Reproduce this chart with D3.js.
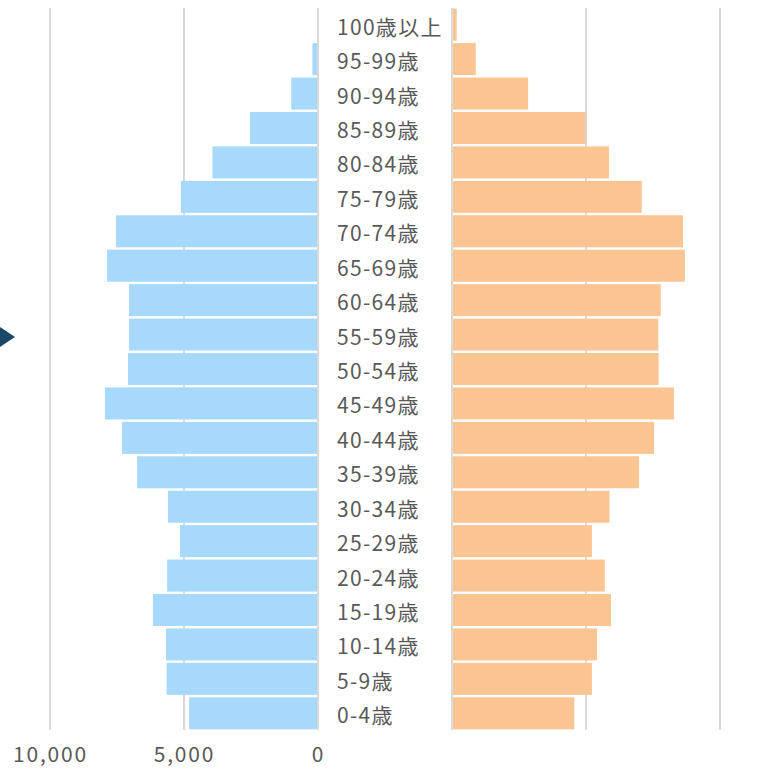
<!DOCTYPE html>
<html>
<head>
<meta charset="utf-8">
<script src="https://cdn.jsdelivr.net/npm/d3@7"></script>
<style>
  html, body { margin: 0; padding: 0; background: #ffffff; }
  svg { display: block; }
  text { font-family: "Noto Sans CJK JP", "Noto Sans", sans-serif; fill: #595959; }
</style>
</head>
<body>
<svg id="chart" width="758" height="771"></svg>
<script>
// Age groups, oldest at the top
const ageGroups = ["100歳以上", "95-99歳", "90-94歳", "85-89歳", "80-84歳", "75-79歳",
  "70-74歳", "65-69歳", "60-64歳", "55-59歳", "50-54歳", "45-49歳", "40-44歳",
  "35-39歳", "30-34歳", "25-29歳", "20-24歳", "15-19歳", "10-14歳", "5-9歳", "0-4歳"];

// Male population (left side)
const male = [15, 210, 1000, 2540, 3940, 5120, 7540, 7870, 7050, 7050, 7090, 7950,
  7310, 6750, 5600, 5150, 5630, 6160, 5670, 5650, 4810];

// Female population (right side)
const female = [175, 885, 2840, 4975, 5860, 7080, 8620, 8690, 7790, 7700, 7710, 8280,
  7540, 6980, 5880, 5220, 5700, 5930, 5410, 5220, 4565];

const tickValues = [0, 5000, 10000];

const svg = d3.select("#chart");

const y = d3.scaleBand().domain(ageGroups).range([8, 730]).paddingInner(0.07).paddingOuter(0.02);
const xLeft = d3.scaleLinear().domain([0, 10000]).range([318, 50]);
const xRight = d3.scaleLinear().domain([0, 10000]).range([452, 720]);

// Vertical grid lines for both halves
const grid = svg.append("g");
[xLeft, xRight].forEach(sc => {
  grid.selectAll(null).data(tickValues).enter().append("line")
    .attr("x1", d => sc(d)).attr("x2", d => sc(d))
    .attr("y1", 8).attr("y2", 730)
    .attr("stroke", "#d9d9d9").attr("stroke-width", 2);
});

// Male bars grow leftwards from zero
svg.append("g").selectAll("rect").data(male).enter().append("rect")
  .attr("x", d => xLeft(d))
  .attr("y", (d, i) => y(ageGroups[i]))
  .attr("width", d => xLeft(0) - 1 - xLeft(d))
  .attr("height", y.bandwidth())
  .attr("fill", "#a6d9fc");

// Female bars grow rightwards from zero
svg.append("g").selectAll("rect").data(female).enter().append("rect")
  .attr("x", xRight(0) + 1)
  .attr("y", (d, i) => y(ageGroups[i]))
  .attr("width", d => xRight(d) - xRight(0) - 1)
  .attr("height", y.bandwidth())
  .attr("fill", "#fac592");

// Age group labels in the central gap
svg.append("g").selectAll("text").data(ageGroups).enter().append("text")
  .attr("x", 337)
  .attr("y", d => y(d) + y.bandwidth() / 2 + 1)
  .attr("dominant-baseline", "central")
  .style("font-size", "21px")
  .style("letter-spacing", "1.3px")
  .text(d => d);

// Bottom axis for the male side
const axis = d3.axisBottom(xLeft).tickValues(tickValues).tickFormat(d3.format(",")).tickSize(0);
const ax = svg.append("g").attr("transform", "translate(0,753)").call(axis);
ax.select(".domain").remove();
ax.selectAll("text").style("font-size", "21px").attr("dy", "0.3em")
  .style("letter-spacing", "1.8px")
  .style("font-family", "'Noto Sans CJK JP', sans-serif").attr("fill", "#595959");

// Pointer marker at the left edge
svg.append("path")
  .attr("d", "M0,327 L15,337 L0,347 Z")
  .attr("fill", "#1b4866");
</script>
</body>
</html>
